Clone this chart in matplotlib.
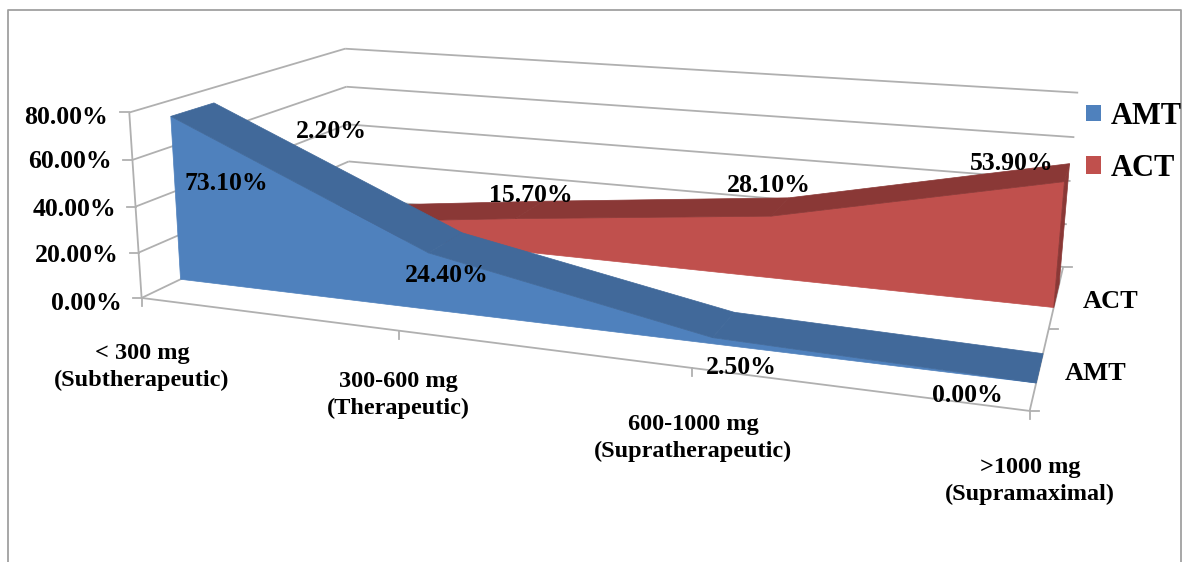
import numpy as np
import matplotlib
matplotlib.use("Agg")
import matplotlib.pyplot as plt
from matplotlib.patches import Polygon, Rectangle

categories = ["< 300 mg\n(Subtherapeutic)", "300-600 mg\n(Therapeutic)",
	"600-1000 mg\n(Supratherapeutic)", ">1000 mg\n(Supramaximal)"]
amt_values = [73.1, 24.4, 2.5, 0.0]
act_values = [2.2, 15.7, 28.1, 53.9]
value_ticks = [0, 20, 40, 60, 80]
series_names = ["AMT", "ACT"]

# (category, value, depth) -> picture pixel
ANCHORS = [
	((0, 0, 0), (143, 298)), ((1, 0, 0), (398, 330)), ((2, 0, 0), (692, 368)), ((3, 0, 0), (1029, 411)),
	((0, 80, 0), (128, 113)), ((3, 0, 0.5), (1050, 329)), ((3, 0, 1), (1063, 267)),
	((0, 80, 1), (347, 48)), ((0, 20, 1), (347, 162)), ((3, 80, 1), (1078, 93)), ((3, 60, 1), (1074, 137)),
]
GREY = "#b0b0b0"
FONT = "Liberation Serif"


def fit_projection(anchors):
	"""least squares fit of a 3d to 2d projective matrix"""
	rows, rhs = [], []
	for (x, v, d), (px, py) in anchors:
		rows.append([x, v, d, 1, 0, 0, 0, 0, -px * x, -px * v, -px * d])
		rows.append([0, 0, 0, 0, x, v, d, 1, -py * x, -py * v, -py * d])
		rhs += [px, py]
	sol = np.linalg.lstsq(np.array(rows, float), np.array(rhs, float), rcond=None)[0]
	return np.append(sol, 1).reshape(3, 4)


MATRIX = fit_projection(ANCHORS)


def proj(x, v, d):
	p = MATRIX @ np.array([x, v, d, 1.0])
	return p[0] / p[2], p[1] / p[2]


def line3d(ax, a, b, color=GREY, lw=1.3):
	pa, pb = proj(*a), proj(*b)
	ax.plot([pa[0], pb[0]], [pa[1], pb[1]], color=color, lw=lw, solid_capstyle="butt", zorder=1)


def area3d(ax, values, d0, d1, front, top):
	"""area series as a slab running from depth d0 to d1"""
	xs = range(len(values))
	pts = [proj(x, values[x], d0) for x in xs] + [proj(x, 0, d0) for x in reversed(xs)]
	ax.add_patch(Polygon(pts, closed=True, fc=front, ec=front, lw=0.5))
	last = len(values) - 1
	side = [proj(last, 0, d0), proj(last, values[last], d0), proj(last, values[last], d1), proj(last, 0, d1)]
	ax.add_patch(Polygon(side, closed=True, fc=top, ec=top, lw=0.5))
	for i in range(last):
		strip = [proj(i, values[i], d0), proj(i + 1, values[i + 1], d0),
			proj(i + 1, values[i + 1], d1), proj(i, values[i], d1)]
		ax.add_patch(Polygon(strip, closed=True, fc=top, ec=top, lw=0.5))


fig = plt.figure(figsize=(11.87, 5.62), dpi=100)
ax = fig.add_axes([0, 0, 1, 1])
ax.set_xlim(0, 1187)
ax.set_ylim(562, 0)
ax.axis("off")

# outer frame, open at the bottom
ax.plot([8, 8, 1181, 1181], [562, 10, 10, 562], color="#a0a0a0", lw=1.3)

# walls and floor
for v in value_ticks:
	line3d(ax, (0, v, 0), (0, v, 1))
	line3d(ax, (0, v, 1), (3, v, 1))
	px, py = proj(0, v, 0)
	ax.plot([px - 9, px], [py, py], color=GREY, lw=1.3)
line3d(ax, (0, 0, 0), (0, 80, 0))
line3d(ax, (0, 0, 0), (3, 0, 0))
line3d(ax, (3, 0, 0), (3, 0, 1))
for i in range(len(categories)):
	px, py = proj(i, 0, 0)
	ax.plot([px, px], [py, py + 8], color=GREY, lw=1.3)
for d in [0, 0.5, 1]:
	px, py = proj(3, 0, d)
	ax.plot([px, px + 9], [py, py], color=GREY, lw=1.3)

area3d(ax, act_values, 0.66, 0.85, "#c0504d", "#8a3836")
area3d(ax, amt_values, 0.155, 0.335, "#4f81bd", "#41699a")


def label(x, y, s, size=18.5, ha="center", spacing=1.0):
	ax.text(x, y + 2, s, ha=ha, va="center", family=FONT, weight="bold", size=size, color="black",
		linespacing=spacing, zorder=5)


# data labels
amt_pos = [(226, 181), (447, 273), (741, 365), (967, 394)]
act_pos = [(331, 129), (531, 193), (769, 184), (1012, 162)]
for v, pos in zip(amt_values, amt_pos):
	label(pos[0], pos[1], "%.2f%%" % v)
for v, pos in zip(act_values, act_pos):
	label(pos[0], pos[1], "%.2f%%" % v)

# axis labels
for v, x, y in zip(value_ticks, [122, 119, 116, 112, 108], [302, 254, 207, 160, 115]):
	label(x, y, "%.2f%%" % v, ha="right")
for c, pos in zip(categories, [(142, 365), (398, 393), (693, 436), (1030, 479)]):
	label(pos[0], pos[1], c, size=17.5, spacing=1.4)
label(1096, 371, series_names[0], size=19)
label(1111, 299, series_names[1], size=19)

# legend
ax.add_patch(Rectangle((1086, 105), 15, 16, fc="#4f81bd", ec="none"))
ax.add_patch(Rectangle((1086, 156), 15, 18, fc="#c0504d", ec="none"))
label(1111, 114, series_names[0], size=22, ha="left")
label(1111, 166, series_names[1], size=22, ha="left")

fig.savefig("out.png", dpi=100)
